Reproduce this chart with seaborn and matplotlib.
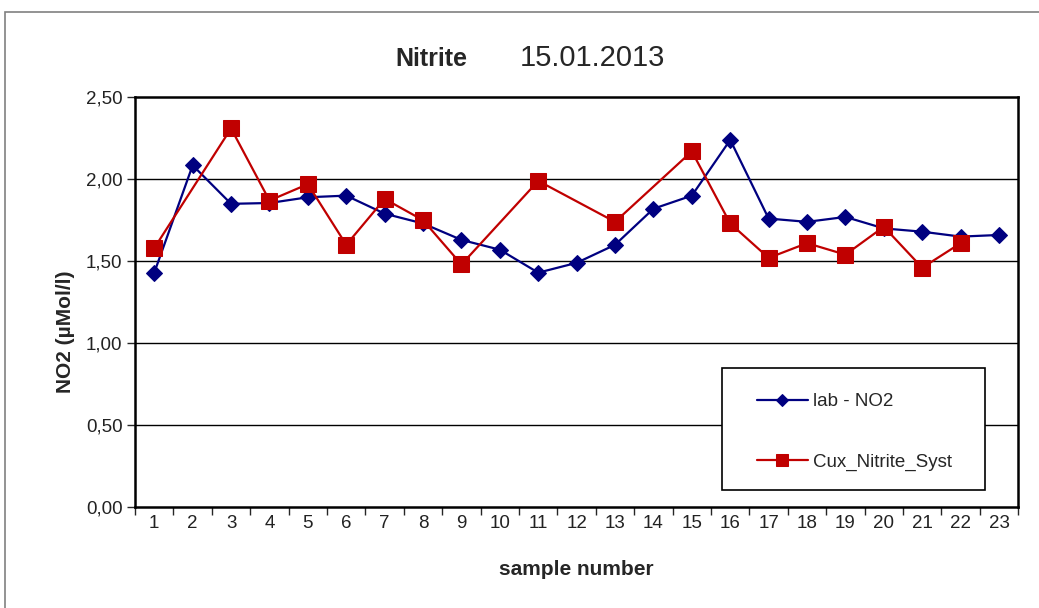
import numpy as np
import pandas as pd
import matplotlib
matplotlib.use('Agg')
import matplotlib.pyplot as plt
import seaborn as sns
from matplotlib.ticker import FixedLocator, FuncFormatter
from matplotlib.patches import Rectangle

# data
samples = list(range(1, 24))
lab_no2 = [1.43, 2.085, 1.85, 1.855, 1.89, 1.90, 1.79, 1.73, 1.63, 1.57, 1.43, 1.49,
           1.60, 1.82, 1.90, 2.24, 1.76, 1.74, 1.77, 1.70, 1.68, 1.65, 1.66]
cux_samples = [1, 3, 4, 5, 6, 7, 8, 9, 11, 13, 15, 16, 17, 18, 19, 20, 21, 22]
cux_nitrite = [1.58, 2.31, 1.87, 1.97, 1.60, 1.88, 1.75, 1.48, 1.99, 1.74, 2.17, 1.73,
               1.52, 1.61, 1.54, 1.71, 1.46, 1.61]
y_ticks = [0.0, 0.5, 1.0, 1.5, 2.0, 2.5]

sns.set_style('white')
plt.rcParams['font.family'] = ['Liberation Sans', 'DejaVu Sans']

fig = plt.figure(figsize=(10.39, 6.08), dpi=100)
ax = fig.add_axes([0.130, 0.166, 0.850, 0.674])

# outer chart frame
fig.patches.append(Rectangle((0.005, -0.1), 1.2, 1.08, transform=fig.transFigure,
                             fill=False, edgecolor='#808080', linewidth=1.2))

for y in y_ticks[1:-1]:
    ax.axhline(y, color='black', linewidth=1.0, zorder=0)

sns.lineplot(x=samples, y=lab_no2, ax=ax, color='#000080', marker='D', markersize=8,
             markeredgecolor='#000080', linewidth=1.6, label='lab - NO2')
sns.lineplot(x=cux_samples, y=cux_nitrite, ax=ax, color='#C00000', marker='s', markersize=11,
             markeredgecolor='#C00000', linewidth=1.6, label='Cux_Nitrite_Syst')

ax.set_xlim(0.5, 23.5)
ax.set_ylim(0, 2.5)
ax.xaxis.set_major_locator(FixedLocator(samples))
ax.xaxis.set_minor_locator(FixedLocator(np.arange(0.5, 24, 1.0)))
ax.set_yticks(y_ticks)
ax.yaxis.set_major_formatter(FuncFormatter(lambda v, p: f'{v:.2f}'.replace('.', ',')))
ax.tick_params(axis='x', which='major', length=0, pad=6, labelsize=13.5, labelcolor='#222222')
ax.tick_params(axis='x', which='minor', length=6, width=1, direction='out', bottom=True)
ax.tick_params(axis='y', which='major', length=6, width=1, direction='out', left=True,
               labelsize=13.5, pad=3, labelcolor='#222222')

for s in ax.spines.values():
    s.set_color('black')
    s.set_linewidth(1.8)

ax.set_xlabel('sample number', fontsize=15, fontweight='bold', labelpad=20)
ax.set_ylabel('NO2 (µMol/l)', fontsize=15, fontweight='bold')
ax.yaxis.set_label_coords(-0.068, 0.427)

fig.text(0.415, 0.903, 'Nitrite', fontsize=18, fontweight='bold', ha='center', va='center')
fig.text(0.570, 0.905, '15.01.2013', fontsize=21, ha='center', va='center')

# legend box drawn separately, legend entries placed inside it
ax.add_patch(Rectangle((0.6648, 0.0415), 0.2978, 0.2976, transform=ax.transAxes,
                       facecolor='white', edgecolor='black', linewidth=1.2, zorder=4.5))
leg = ax.legend(loc='upper left', bbox_to_anchor=(0.7044, 0.278), frameon=False,
                fontsize=13.5, labelspacing=2.3, borderpad=0, handlelength=2.7,
                handletextpad=0.27, borderaxespad=0, markerscale=0.75)
leg.set_zorder(5)

fig.savefig('out.png', dpi=100)
